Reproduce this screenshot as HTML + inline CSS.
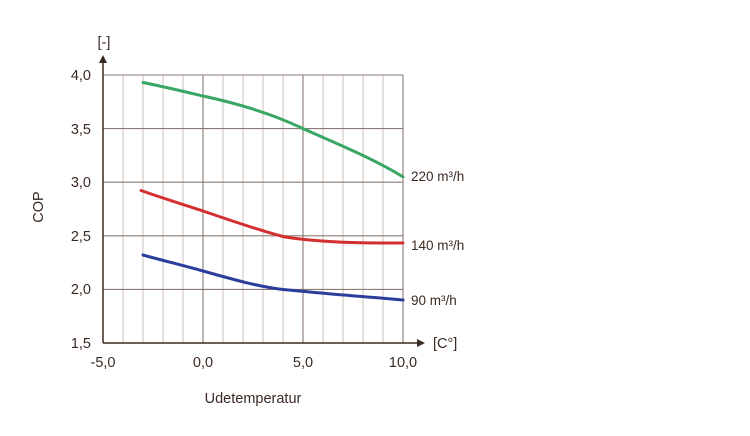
<!DOCTYPE html>
<html><head><meta charset="utf-8"><style>
html,body{margin:0;padding:0;background:#fff;width:750px;height:436px;overflow:hidden}
text{font-family:"Liberation Sans",sans-serif;fill:#3a2a22}
</style></head><body>
<svg width="750" height="436" viewBox="0 0 750 436">
<g stroke="#d6cfcb" stroke-width="1.3">
<line x1="123" y1="75" x2="123" y2="343"/><line x1="143" y1="75" x2="143" y2="343"/><line x1="163" y1="75" x2="163" y2="343"/><line x1="183" y1="75" x2="183" y2="343"/>
<line x1="223" y1="75" x2="223" y2="343"/><line x1="243" y1="75" x2="243" y2="343"/><line x1="263" y1="75" x2="263" y2="343"/><line x1="283" y1="75" x2="283" y2="343"/>
<line x1="323" y1="75" x2="323" y2="343"/><line x1="343" y1="75" x2="343" y2="343"/><line x1="363" y1="75" x2="363" y2="343"/><line x1="383" y1="75" x2="383" y2="343"/>
</g>
<g stroke="#8a7a74" stroke-width="1.1">
<line x1="203" y1="75" x2="203" y2="343"/><line x1="303" y1="75" x2="303" y2="343"/><line x1="403" y1="75" x2="403" y2="343"/>
<line x1="103" y1="75" x2="403" y2="75"/><line x1="103" y1="128.6" x2="403" y2="128.6"/><line x1="103" y1="182.2" x2="403" y2="182.2"/><line x1="103" y1="235.8" x2="403" y2="235.8"/><line x1="103" y1="289.4" x2="403" y2="289.4"/>
</g>
<g stroke="#3a2a22" stroke-width="1.5" fill="none">
<line x1="103" y1="343" x2="103" y2="62"/><line x1="103" y1="343" x2="418" y2="343"/>
</g>
<polygon points="103,55 99,63 107,63" fill="#3a2a22"/>
<polygon points="425,343 417,339 417,347" fill="#3a2a22"/>
<g fill="none" stroke-width="3" stroke-linecap="round">
<path d="M143,82.5 C170,88 190,93 203,96 C240,104 275,115 303,128.6 C340,145 370,157 403,176.8" stroke="#3aa664"/>
<path d="M141,190.5 C165,199 185,205 203,211 C235,222 265,232 283,236.5 C293,238.5 300,239 310,240 C340,243 370,243 403,243" stroke="#d42f2f"/>
<path d="M143,255 C165,261 185,266 203,271 C235,280 260,287 283,289.5 C293,290.5 300,291 310,292 C340,295 370,297 403,300" stroke="#2b3d9a"/>
</g>
<g font-size="14.5" text-anchor="end">
<text x="91" y="80">4,0</text><text x="91" y="134">3,5</text><text x="91" y="187">3,0</text><text x="91" y="241">2,5</text><text x="91" y="294">2,0</text><text x="91" y="348">1,5</text>
</g>
<g font-size="14.5" text-anchor="middle">
<text x="103" y="367">-5,0</text><text x="203" y="367">0,0</text><text x="303" y="367">5,0</text><text x="403" y="367">10,0</text>
<text x="253" y="403">Udetemperatur</text>
<text x="104" y="47">[-]</text>
</g>
<text x="433" y="348" font-size="14.5">[C°]</text>
<text transform="translate(43,207) rotate(-90)" font-size="14.5" text-anchor="middle">COP</text>
<g font-size="13.5">
<text x="411" y="181">220 m³/h</text><text x="411" y="250">140 m³/h</text><text x="411" y="305">90 m³/h</text>
</g>
</svg>
</body></html>
